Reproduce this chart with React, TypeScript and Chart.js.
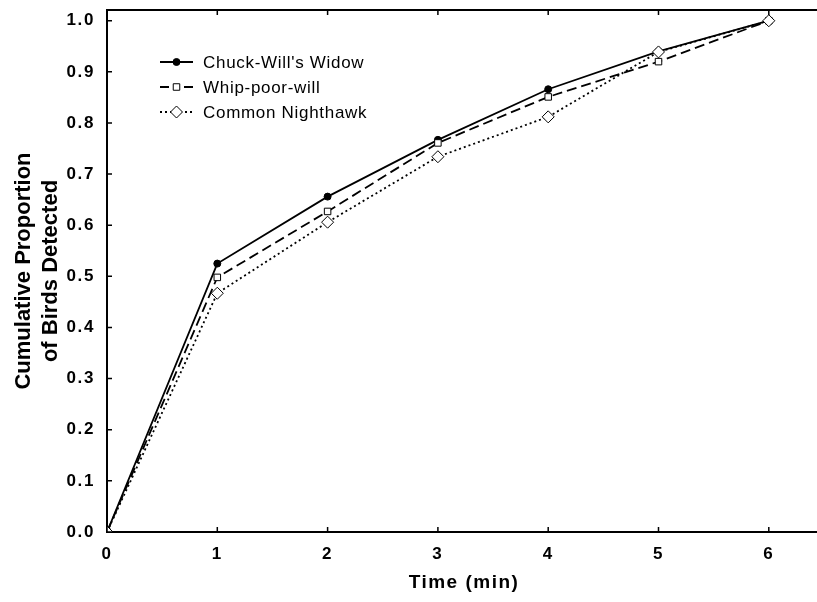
import React, { useEffect, useRef } from 'react';
import { Chart, registerables } from 'chart.js';

Chart.register(...registerables);

const timeMin = [0, 1, 2, 3, 4, 5, 6];
const chuckWillsWidow = [0, 0.525, 0.656, 0.767, 0.866, 0.94, 1.0];
const whipPoorWill = [0, 0.498, 0.627, 0.761, 0.851, 0.92, 1.0];
const commonNighthawk = [0, 0.467, 0.606, 0.734, 0.812, 0.939, 1.0];
const seriesNames = ["Chuck-Will's Widow", 'Whip-poor-will', 'Common Nighthawk'];
const xAxisTitle = 'Time (min)';
const yAxisTitle = ['Cumulative Proportion', 'of Birds Detected'];

const FONT = "'Liberation Sans', Arial, Helvetica, sans-serif";

function toPoints(vals: number[]) {
  return timeMin.map((t, i) => ({ x: t, y: vals[i] }));
}

const styles = [
  { dash: [] as number[], pointStyle: 'circle', radius: 3.5, fill: '#000' },
  { dash: [10, 5], pointStyle: 'rect', radius: 4.6, fill: '#fff' },
  { dash: [2, 3], pointStyle: 'rectRot', radius: 6, fill: '#fff' },
];

function drawMarker(ctx: CanvasRenderingContext2D, style: string, x: number, y: number, r: number, fill: string) {
  ctx.save();
  ctx.setLineDash([]);
  ctx.lineWidth = 1;
  ctx.strokeStyle = '#000';
  ctx.fillStyle = fill;
  ctx.beginPath();
  if (style === 'circle') {
    ctx.arc(x, y, r, 0, Math.PI * 2);
  } else if (style === 'rect') {
    const s = r * Math.SQRT1_2;
    ctx.rect(x - s, y - s, 2 * s, 2 * s);
  } else {
    ctx.moveTo(x - r, y);
    ctx.lineTo(x, y - r);
    ctx.lineTo(x + r, y);
    ctx.lineTo(x, y + r);
    ctx.closePath();
  }
  ctx.fill();
  ctx.stroke();
  ctx.restore();
}

const framePlugin = {
  id: 'framePlugin',
  beforeDraw(chart: any) {
    (chart.ctx as any).letterSpacing = '1.6px';
  },
  afterDraw(chart: any) {
    const ctx: CanvasRenderingContext2D = chart.ctx;
    const { left, right, top, bottom } = chart.chartArea;
    const xs = chart.scales.x;
    const ys = chart.scales.y;
    ctx.save();
    ctx.strokeStyle = '#000';
    ctx.setLineDash([]);
    // top border
    ctx.lineWidth = 2;
    ctx.beginPath();
    ctx.moveTo(left - 1, top);
    ctx.lineTo(right, top);
    ctx.stroke();
    // inward tick marks
    ctx.lineWidth = 1.5;
    ctx.beginPath();
    xs.ticks.forEach((t: any) => {
      const px = xs.getPixelForValue(t.value);
      ctx.moveTo(px, bottom);
      ctx.lineTo(px, bottom - 5);
      ctx.moveTo(px, top);
      ctx.lineTo(px, top + 5);
    });
    ys.ticks.forEach((t: any) => {
      const py = ys.getPixelForValue(t.value);
      ctx.moveTo(left, py);
      ctx.lineTo(left + 5, py);
    });
    ctx.stroke();

    // axis titles
    ctx.fillStyle = '#000';
    (ctx as any).letterSpacing = '1.5px';
    ctx.font = `bold 19px ${FONT}`;
    ctx.textAlign = 'center';
    ctx.textBaseline = 'middle';
    ctx.fillText(xAxisTitle, (left + right) / 2 + 2, 583);

    (ctx as any).letterSpacing = '0px';
    ctx.save();
    ctx.translate(24, (top + bottom) / 2);
    ctx.rotate(-Math.PI / 2);
    ctx.font = `bold 22px ${FONT}`;
    ctx.fillText(yAxisTitle[0], 0, 0);
    ctx.fillText(yAxisTitle[1], 0, 27);
    ctx.restore();

    // legend
    const legendY = [62, 87, 112];
    (ctx as any).letterSpacing = '0.7px';
    ctx.font = `17px ${FONT}`;
    ctx.textAlign = 'left';
    seriesNames.forEach((name, i) => {
      const st = styles[i];
      const y = legendY[i];
      ctx.save();
      ctx.lineWidth = 1.8;
      ctx.setLineDash(i === 1 ? [9, 15] : st.dash);
      ctx.beginPath();
      ctx.moveTo(160, y);
      ctx.lineTo(193, y);
      ctx.stroke();
      ctx.restore();
      drawMarker(ctx, st.pointStyle, 176.5, y, st.radius, st.fill);
      ctx.fillText(name, 203, y + 1);
    });
    ctx.restore();
  },
};

export default function App() {
  const ref = useRef<HTMLCanvasElement | null>(null);
  useEffect(() => {
    if (!ref.current) return;
    const seriesVals = [chuckWillsWidow, whipPoorWill, commonNighthawk];
    const chart = new Chart(ref.current, {
      type: 'line',
      data: {
        datasets: seriesVals.map((vals, i) => ({
          label: seriesNames[i],
          data: toPoints(vals),
          borderColor: '#000',
          borderWidth: 1.8,
          borderDash: styles[i].dash,
          backgroundColor: styles[i].fill,
          pointStyle: styles[i].pointStyle as any,
          pointRadius: styles[i].radius,
          pointBorderWidth: 1,
          pointBorderColor: '#000',
          pointBackgroundColor: styles[i].fill,
          tension: 0,
          order: 3 - i,
        })),
      },
      options: {
        animation: false,
        responsive: true,
        maintainAspectRatio: false,
        layout: { autoPadding: false, padding: { top: 10, left: 0, right: 0, bottom: 0 } },
        plugins: { legend: { display: false }, tooltip: { enabled: false } },
        scales: {
          x: {
            type: 'linear',
            min: 0,
            max: 6.437,
            grid: { display: false },
            border: { display: true, color: '#000', width: 2 },
            ticks: {
              stepSize: 1,
              includeBounds: false,
              color: '#000',
              padding: 4,
              font: { family: FONT, size: 17, weight: 'bold' },
              callback: (v: any) => String(Math.round(Number(v))),
            },
            afterFit: (s: any) => {
              s.height = 70;
              s.paddingRight = 0;
              s.paddingLeft = 0;
            },
          },
          y: {
            type: 'linear',
            min: 0,
            max: 1.021,
            grid: { display: false },
            border: { display: true, color: '#000', width: 2 },
            ticks: {
              stepSize: 0.1,
              includeBounds: false,
              color: '#000',
              padding: 4,
              font: { family: FONT, size: 17, weight: 'bold' },
              callback: (v: any) => Number(v).toFixed(1),
            },
            afterFit: (s: any) => {
              s.width = 107;
              s.paddingTop = 0;
              s.paddingBottom = 0;
            },
          },
        },
      },
      plugins: [framePlugin],
    });
    return () => chart.destroy();
  }, []);
  return (
    <div style={{ position: 'absolute', left: 0, top: 0, width: 817, height: 602, background: '#fff' }}>
      <canvas ref={ref} />
    </div>
  );
}
